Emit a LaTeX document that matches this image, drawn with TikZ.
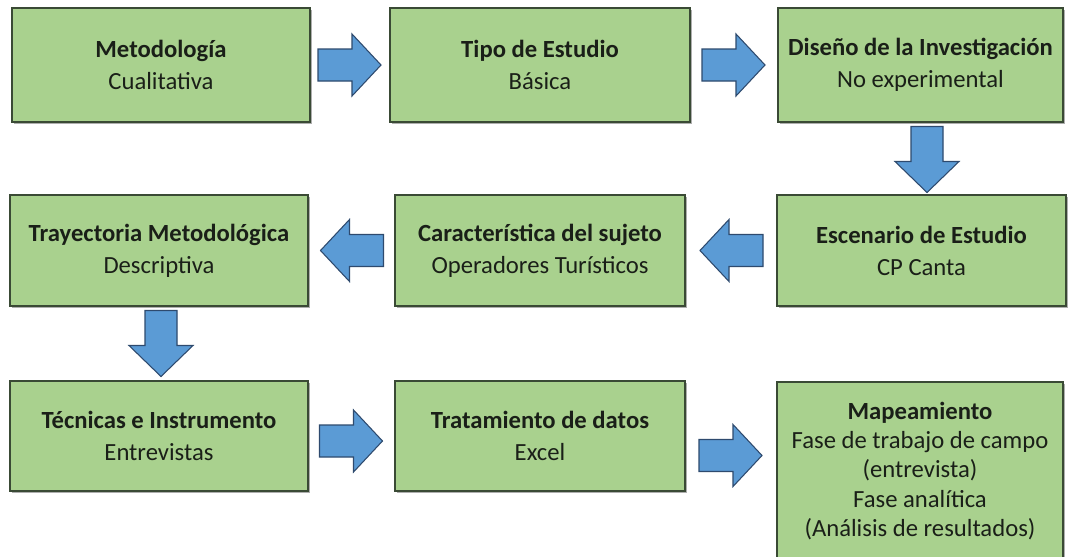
\documentclass[tikz,border=0pt]{standalone}
\usepackage{fontspec}
\setmainfont{Carlito}
\usetikzlibrary{calc,shadows}
\definecolor{boxgreen}{HTML}{A9D18E}
\definecolor{boxline}{HTML}{3A4A35}
\definecolor{arrblue}{HTML}{5B9BD5}
\definecolor{arrline}{HTML}{2E4A6E}
\definecolor{txt}{HTML}{1A1F18}
\tikzset{
  stepbox/.style={draw=boxline, line width=1.1pt, fill=boxgreen, text=txt,
    align=center, inner sep=0pt,
    font=\fontsize{18.5}{22}\selectfont,
    drop shadow={shadow xshift=1.6pt, shadow yshift=-1.6pt, opacity=0.45, fill=black!70}},
  bw/.style={minimum width=#1*0.75pt},
  bh/.style={minimum height=#1*0.75pt},
  blockarrow/.style={fill=arrblue, draw=arrline, line width=0.8pt, line join=miter},
  pics/rarr/.style={code={\draw[blockarrow] (-32,-16) -- (2,-16) -- (2,-31) -- (31,0) -- (2,31) -- (2,16) -- (-32,16) -- cycle;}},
  pics/larr/.style={code={\draw[blockarrow] (32,-16) -- (-2,-16) -- (-2,-31) -- (-31,0) -- (-2,31) -- (-2,16) -- (32,16) -- cycle;}},
  pics/darr/.style={code={\draw[blockarrow] (-16,-33) -- (-16,2) -- (-32,2) -- (0,33) -- (32,2) -- (16,2) -- (16,-33) -- cycle;}}
}
\begin{document}
\begin{tikzpicture}[x=0.75pt,y=-0.75pt]
\useasboundingbox (0,0) rectangle (1068,557);
\clip (0,0) rectangle (1068,557);
\fill[white] (0,0) rectangle (1068,557);
% row 1
\node[stepbox, bw=298, bh=114] (b1) at (161,65) {\textbf{Metodología}\\[2pt]Cualitativa};
\node[stepbox, bw=300, bh=114] (b2) at (540,65) {\textbf{Tipo de Estudio}\\[2pt]Básica};
\node[stepbox, bw=285, bh=114] (b3) at (920.5,65) {\textbf{Diseño de la Investigación}\\[2pt]No experimental};
% row 2
\node[stepbox, bw=298, bh=111] (b4) at (159,250.5) {\textbf{Trayectoria Metodológica}\\[2pt]Descriptiva};
\node[stepbox, bw=290, bh=111] (b5) at (540,250.5) {\textbf{Característica del sujeto}\\[2pt]Operadores Turísticos};
\node[stepbox, bw=289, bh=111] (b6) at (921.5,250.5) {\textbf{Escenario de Estudio}\\[2pt]CP Canta};
% row 3
\node[stepbox, bw=298, bh=110] (b7) at (159,436) {\textbf{Técnicas e Instrumento}\\[2pt]Entrevistas};
\node[stepbox, bw=290, bh=110] (b8) at (540,436) {\textbf{Tratamiento de datos}\\[2pt]Excel};
\node[stepbox, bw=286, bh=178] (b9) at (920,471) {\textbf{Mapeamiento}\\Fase de trabajo de campo\\(entrevista)\\Fase analítica\\(Análisis de resultados)};
% arrow positions
\coordinate (a1) at ($(b1.east)!0.5!(b2.west)$);
\coordinate (a2) at ($(b2.east)!0.5!(b3.west)$);
\coordinate (a3) at ($(b3.south)!0.5!(b6.north)+(6,1)$);
\coordinate (a4) at ($(b6.west)!0.5!(b5.east)$);
\coordinate (a5) at ($(b5.west)!0.5!(b4.east)$);
\coordinate (a6) at ($(b4.south)!0.5!(b7.north)+(2,0)$);
\coordinate (a7) at ($(b7.east)!0.5!(b8.west)+(0,5)$);
\coordinate (a8) at ($(b8.east)!0.5!(b9.west)+(0,2)$);
\pic at (a1) {rarr};
\pic at (a2) {rarr};
\pic at (a3) {darr};
\pic at (a4) {larr};
\pic at (a5) {larr};
\pic at (a6) {darr};
\pic at (a7) {rarr};
\pic at (a8) {rarr};
\end{tikzpicture}
\end{document}
